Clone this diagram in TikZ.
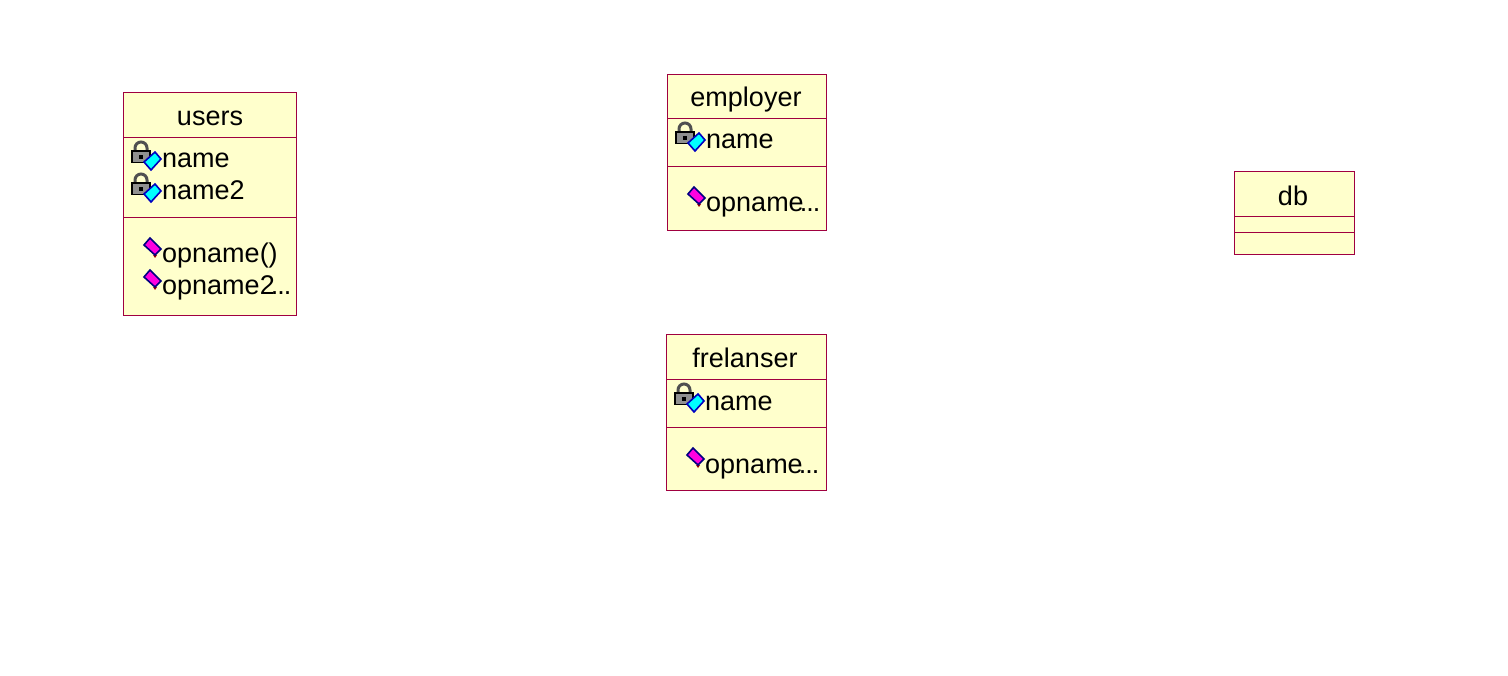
\documentclass[tikz,border=0pt]{standalone}
\usepackage{fontspec}
\setmainfont{Liberation Sans}
\definecolor{classedge}{HTML}{A00040}
\definecolor{classfill}{HTML}{FFFFCC}
\definecolor{lockgray}{HTML}{909090}
\definecolor{lockdark}{HTML}{505050}
\definecolor{keycyan}{HTML}{00FFFF}
\definecolor{keyblue}{HTML}{0000C0}
\definecolor{oppink}{HTML}{FF00E0}
\definecolor{opnavy}{HTML}{000080}
\definecolor{opred}{HTML}{A00000}
\newcommand{\clipdots}{\kern-4pt.\kern-1pt.\kern-1pt.}
\tikzset{
	classbox/.style={draw=classedge, fill=classfill, line width=1pt},
	classline/.style={draw=classedge, line width=1pt},
	title/.style={anchor=base, inner sep=0pt, font=\fontsize{27}{27}\selectfont},
	member/.style={anchor=base west, inner sep=0pt, font=\fontsize{27}{27}\selectfont},
	attricon/.pic={
		\draw[lockdark, line width=3pt] (-27,-14) -- (-27,-19) arc[start angle=180, end angle=360, radius=6] -- (-15,-14);
		\draw[black, fill=lockgray, line width=1.2pt] (-30,-16) rectangle (-12,-4.5);
		\fill[black] (-23,-12) rectangle (-19,-8);
		\draw[keyblue, fill=keycyan, line width=1.6pt] (-7,-15) -- (-1,-8) -- (-11,3) -- (-18,-5) -- cycle;
	},
	opicon/.pic={
		\fill[opred] (-9,-7) -- (-5,-7) -- (-7,-4) -- cycle;
		\draw[opnavy, fill=oppink, line width=1.6pt] (-12,-24) -- (-1,-13) -- (-7,-7) -- (-18,-17) -- cycle;
	}
}
\begin{document}
\begin{tikzpicture}[x=1pt, y=-1pt]
	\useasboundingbox (0,0) rectangle (1508,676);

	\draw[classbox] (123.5,92.5) rectangle (296.5,315.5);
	\draw[classline] (123.5,137.5) -- (296.5,137.5);
	\draw[classline] (123.5,217.5) -- (296.5,217.5);
	\node[title] (usersName) at (210,126) {users};
	\pic at (162,167) {attricon};
	\node[member] (usersAttrA) at (162,168) {name};
	\pic at (162,199) {attricon};
	\node[member] (usersAttrB) at (162,200) {name2};
	\pic at (162,262) {opicon};
	\node[member] (usersOpA) at (162,263) {opname()};
	\pic at (162,294) {opicon};
	\node[member] (usersOpB) at (162,295) {opname2\clipdots};

	\draw[classbox] (667.5,74.5) rectangle (826.5,230.5);
	\draw[classline] (667.5,118.5) -- (826.5,118.5);
	\draw[classline] (667.5,166.5) -- (826.5,166.5);
	\node[title] (employerName) at (746,107) {employer};
	\pic at (706,148) {attricon};
	\node[member] (employerAttr) at (706,149) {name};
	\pic at (706,211) {opicon};
	\node[member] (employerOp) at (706,212) {opname\clipdots};

	\draw[classbox] (666.5,334.5) rectangle (826.5,490.5);
	\draw[classline] (666.5,379.5) -- (826.5,379.5);
	\draw[classline] (666.5,427.5) -- (826.5,427.5);
	\node[title] (frelanserName) at (745,368) {frelanser};
	\pic at (705,409) {attricon};
	\node[member] (frelanserAttr) at (705,410) {name};
	\pic at (705,472) {opicon};
	\node[member] (frelanserOp) at (705,473) {opname\clipdots};

	\draw[classbox] (1234.5,171.5) rectangle (1354.5,254.5);
	\draw[classline] (1234.5,216.5) -- (1354.5,216.5);
	\draw[classline] (1234.5,232.5) -- (1354.5,232.5);
	\node[title] (dbName) at (1293,206) {db};

\end{tikzpicture}
\end{document}
